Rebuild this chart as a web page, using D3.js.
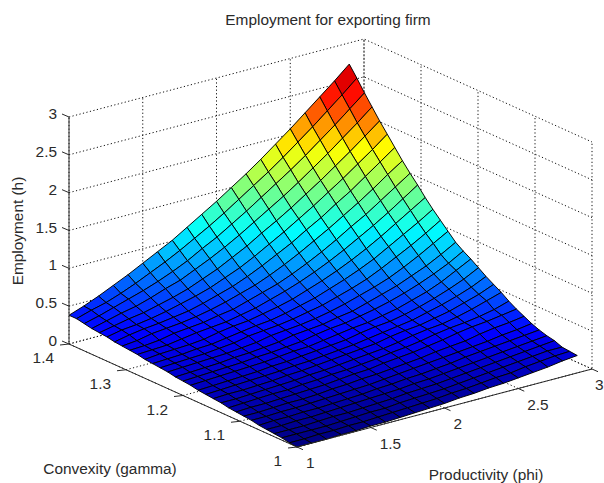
<!DOCTYPE html>
<html>
<head>
<meta charset="utf-8">
<script src="https://d3js.org/d3.v7.min.js"></script>
<style>
    body { margin: 0; background: #fff; }
    text { font-family: "Liberation Sans", Arial, sans-serif; font-size: 15.4px; fill: #2a2a2a; }
</style>
</head>
<body>
<div class="chart"></div>
<script>
const title = 'Employment for exporting firm'
const xLabel = 'Productivity (phi)'
const yLabel = 'Convexity (gamma)'
const zLabel = 'Employment (h)'

const phiTicks = [1, 1.5, 2, 2.5, 3]
const gammaTicks = [1, 1.1, 1.2, 1.3, 1.4]
const zTicks = [0, 0.5, 1, 1.5, 2, 2.5, 3]

const phiValues = [1, 1.1, 1.2, 1.3, 1.4, 1.5, 1.6, 1.7, 1.8, 1.9, 2, 2.1, 2.2, 2.3, 2.4, 2.5, 2.6, 2.7, 2.8, 2.9]
const gammaValues = [1, 1.0133, 1.0267, 1.04, 1.0533, 1.0667, 1.08, 1.0933, 1.1067, 1.12, 1.1333, 1.1467, 1.16, 1.1733, 1.1867, 1.2,
    1.2133, 1.2267, 1.24, 1.2533, 1.2667, 1.28, 1.2933, 1.3067, 1.32, 1.3333, 1.3467, 1.36, 1.3733, 1.3867, 1.4]

// one row per gamma value, one column per phi value
const employment = [
    [0,0,0,.01,.01,.02,.02,.03,.04,.05,.06,.08,.09,.11,.12,.14,.16,.18,.21,.23],
    [.01,.01,.02,.02,.03,.03,.04,.05,.06,.07,.08,.10,.11,.13,.15,.16,.19,.21,.23,.24],
    [.03,.03,.03,.03,.04,.05,.06,.06,.08,.09,.10,.11,.13,.15,.17,.19,.21,.23,.25,.25],
    [.04,.04,.04,.05,.06,.06,.07,.08,.09,.11,.12,.13,.15,.17,.19,.21,.23,.25,.27,.29],
    [.05,.05,.06,.06,.07,.08,.09,.10,.11,.12,.14,.15,.17,.19,.21,.23,.25,.27,.29,.31],
    [.06,.07,.07,.08,.08,.09,.10,.11,.13,.14,.16,.17,.19,.21,.24,.26,.28,.30,.32,.34],
    [.08,.08,.09,.09,.10,.11,.12,.13,.14,.16,.18,.20,.22,.24,.26,.28,.30,.33,.35,.38],
    [.09,.09,.10,.11,.11,.12,.14,.15,.17,.18,.20,.22,.24,.27,.29,.31,.35,.38,.40,.43],
    [.10,.11,.11,.12,.13,.14,.15,.17,.19,.20,.23,.25,.27,.30,.33,.37,.40,.42,.45,.48],
    [.11,.12,.13,.14,.14,.16,.17,.19,.20,.22,.24,.27,.29,.32,.36,.39,.41,.44,.48,.54],
    [.13,.13,.14,.15,.16,.17,.19,.20,.22,.24,.26,.28,.31,.35,.38,.40,.44,.49,.55,.61],
    [.14,.15,.15,.16,.17,.19,.20,.22,.24,.26,.28,.30,.34,.37,.39,.43,.47,.53,.59,.67],
    [.15,.16,.17,.18,.19,.20,.22,.23,.25,.27,.29,.32,.35,.38,.41,.46,.51,.57,.64,.73],
    [.16,.17,.18,.19,.20,.22,.23,.25,.27,.29,.31,.35,.38,.40,.44,.49,.55,.62,.70,.80],
    [.18,.19,.20,.21,.22,.23,.25,.27,.28,.31,.34,.37,.39,.43,.47,.53,.59,.67,.77,.87],
    [.19,.20,.21,.22,.23,.25,.26,.28,.30,.34,.37,.39,.43,.47,.52,.58,.65,.73,.82,.93],
    [.20,.21,.22,.23,.25,.26,.28,.30,.34,.36,.38,.42,.45,.51,.57,.63,.71,.79,.89,1.00],
    [.22,.23,.24,.25,.26,.28,.30,.34,.36,.38,.41,.45,.50,.56,.62,.69,.78,.88,.99,1.10],
    [.23,.24,.25,.26,.28,.30,.34,.36,.38,.41,.45,.49,.55,.61,.68,.77,.87,.97,1.08,1.20],
    [.24,.25,.26,.28,.29,.32,.35,.38,.40,.44,.49,.54,.61,.68,.76,.85,.96,1.07,1.18,1.30],
    [.25,.27,.28,.29,.31,.35,.38,.40,.44,.48,.53,.60,.67,.75,.84,.94,1.05,1.17,1.29,1.41],
    [.27,.28,.29,.32,.35,.37,.39,.43,.47,.53,.59,.66,.74,.83,.93,1.04,1.15,1.27,1.40,1.53],
    [.28,.29,.31,.35,.37,.39,.43,.46,.52,.58,.64,.72,.81,.91,1.02,1.14,1.25,1.38,1.51,1.64],
    [.29,.31,.35,.37,.39,.42,.46,.51,.57,.63,.71,.80,.90,1.01,1.12,1.24,1.36,1.49,1.63,1.76],
    [.30,.34,.37,.39,.42,.45,.50,.56,.62,.70,.79,.89,.99,1.11,1.22,1.35,1.47,1.61,1.75,1.89],
    [.32,.36,.38,.41,.45,.50,.55,.61,.69,.77,.87,.98,1.09,1.21,1.33,1.46,1.59,1.73,1.87,2.02],
    [.33,.37,.41,.44,.49,.54,.60,.68,.76,.86,.96,1.08,1.19,1.31,1.44,1.57,1.71,1.85,2.00,2.15],
    [.34,.39,.44,.48,.54,.61,.67,.76,.85,.95,1.06,1.18,1.30,1.42,1.55,1.69,1.83,1.98,2.13,2.29],
    [.36,.41,.47,.53,.59,.66,.74,.83,.94,1.04,1.16,1.28,1.41,1.54,1.67,1.81,1.96,2.11,2.27,2.43],
    [.38,.44,.49,.56,.64,.73,.82,.92,1.03,1.14,1.26,1.39,1.52,1.65,1.79,1.94,2.09,2.25,2.41,2.58],
    [.38,.45,.53,.62,.71,.81,.91,1.01,1.13,1.25,1.37,1.50,1.63,1.77,1.92,2.07,2.23,2.39,2.55,2.72]
]

const jetStops = [0, 0.34, 1.11, 1.87, 2.45, 2.95]
const jetColors = ['#000080', '#0000ff', '#00ffff', '#ffff00', '#ff0000', '#800000']

const svg = d3.select('.chart')
    .append('svg')
        .attr('width', 604)
        .attr('height', 483)
        .style('display', 'block')

// orthographic view: each data axis moves the point along its own screen direction
const originX = 297
const originY = 447
const phiX = d3.scaleLinear().domain([1, 3]).range([0, 295])
const phiY = d3.scaleLinear().domain([1, 3]).range([0, -78])
const gammaX = d3.scaleLinear().domain([1, 1.4]).range([0, -228])
const gammaY = d3.scaleLinear().domain([1, 1.4]).range([0, -103])
const zY = d3.scaleLinear().domain([0, 3]).range([0, -227])

const project = (phi, gamma, z) => [
    originX + phiX(phi) + gammaX(gamma),
    originY + phiY(phi) + gammaY(gamma) + zY(z)
]

const line = d3.line()

const jet = d3.scaleLinear()
    .domain(jetStops)
    .range(jetColors)
    .clamp(true)

//dotted grid on floor and back walls
const gridLines = [
    ...zTicks.map((z) => [project(1, 1.4, z), project(3, 1.4, z), project(3, 1, z)]),
    ...phiTicks.map((p) => [project(p, 1, 0), project(p, 1.4, 0), project(p, 1.4, 3)]),
    ...gammaTicks.map((g) => [project(1, g, 0), project(3, g, 0), project(3, g, 3)])
]

svg.append('g')
        .attr('id', 'grid')
    .selectAll('path')
    .data(gridLines)
    .enter()
    .append('path')
        .attr('d', line)
        .style('fill', 'none')
        .style('stroke', '#111')
        .style('stroke-width', 1)
        .style('stroke-dasharray', '1.2,2.4')

//surface cells, painted from the back corner to the front
const cells = []
for (let j = gammaValues.length - 2; j >= 0; j--) {
    for (let i = phiValues.length - 2; i >= 0; i--) {
        cells.push({ i, j })
    }
}

const corners = ({ i, j }) => [[i, j], [i + 1, j], [i + 1, j + 1], [i, j + 1]]

svg.append('g')
        .attr('id', 'surface')
    .selectAll('path')
    .data(cells)
    .enter()
    .append('path')
        .attr('d', (d) => line(corners(d).map(([a, b]) =>
            project(phiValues[a], gammaValues[b], employment[b][a]))) + 'Z')
        .style('fill', (d) => jet(d3.mean(corners(d), ([a, b]) => employment[b][a])))
        .style('stroke', '#000')
        .style('stroke-width', 0.95)
        .style('stroke-linejoin', 'round')

//axis lines
const axes = svg.append('g').attr('id', 'axes')

const axisLines = [
    [project(1, 1, 0), project(3, 1, 0)],
    [project(1, 1, 0), project(1, 1.4, 0)],
    [project(1, 1.4, 0), project(1, 1.4, 3)]
]

const tickLines = [
    ...phiTicks.map((p) => [project(p, 1, 0), [project(p, 1, 0)[0] + 6, project(p, 1, 0)[1] + 2.7]]),
    ...gammaTicks.map((g) => [project(1, g, 0), [project(1, g, 0)[0] - 9, project(1, g, 0)[1] + 1]]),
    ...zTicks.map((z) => [project(1, 1.4, z), [project(1, 1.4, z)[0] - 7, project(1, 1.4, z)[1] - 3]])
]

axes.selectAll('path')
    .data([...axisLines, ...tickLines])
    .enter()
    .append('path')
        .attr('d', line)
        .style('fill', 'none')
        .style('stroke', '#2a2a2a')
        .style('stroke-width', 1)

//tick labels, the last phi label is held inside the page
svg.append('g').selectAll('text')
    .data(phiTicks)
    .enter()
    .append('text')
        .attr('x', (d) => Math.min(project(d, 1, 0)[0] + 9, 595))
        .attr('y', (d) => project(d, 1, 0)[1] + 21)
        .text((d) => d)

svg.append('g').selectAll('text')
    .data(gammaTicks)
    .enter()
    .append('text')
        .attr('x', (d) => project(1, d, 0)[0] - 15)
        .attr('y', (d) => project(1, d, 0)[1] + 19)
        .attr('text-anchor', 'end')
        .text((d) => d)

svg.append('g').selectAll('text')
    .data(zTicks)
    .enter()
    .append('text')
        .attr('x', 57)
        .attr('y', (d) => project(1, 1.4, d)[1] + 2)
        .attr('text-anchor', 'end')
        .text((d) => d)

//title and axis labels
svg.append('text')
    .attr('x', 328)
    .attr('y', 25)
    .attr('text-anchor', 'middle')
    .text(title)

svg.append('text')
    .attr('x', 486)
    .attr('y', 480)
    .attr('text-anchor', 'middle')
    .text(xLabel)

svg.append('text')
    .attr('x', 110)
    .attr('y', 474)
    .attr('text-anchor', 'middle')
    .text(yLabel)

svg.append('text')
    .attr('transform', 'translate(23, 231) rotate(-90)')
    .attr('text-anchor', 'middle')
    .text(zLabel)
</script>
</body>
</html>
